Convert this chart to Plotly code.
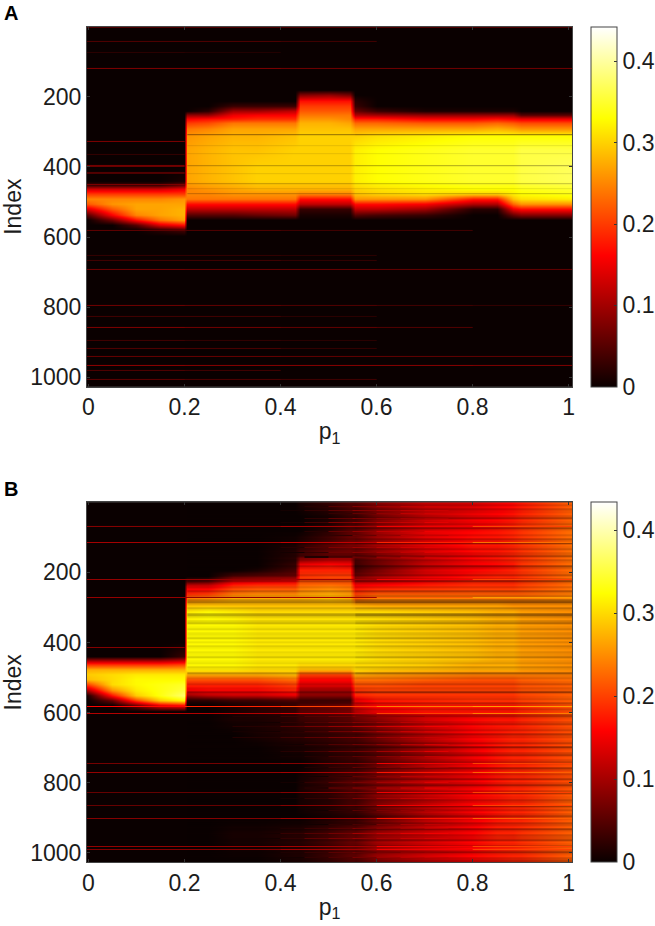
import plotly.graph_objects as go

W, H = 655, 926
P1 = [-0.004,.05,.1,.15,.198,.206,.25,.3,.35,.43,.44,.5,.545,.555,.6,.7,.8,.85,.885,.9,1.006]

A_INDEX = [1,180,195,210,225,240,250,262,275,290,310,350,400,440,452,462,475,490,505,520,535,550,565,580,595,1024]
A_Z = [
[0]*21,
[0]*21,
[0,0,0,0,0,0,0,0,0,0,.08,.09,.07,0,0,0,0,0,0,0,0],
[0,0,0,0,0,0,0,0,0,0,.17,.17,.17,.02,0,0,0,0,0,0,0],
[0,0,0,0,0,0,0,.03,.03,.03,.2,.2,.2,.03,0,0,0,0,0,0,0],
[0,0,0,0,0,0,.02,.10,.10,.12,.22,.22,.22,.06,.03,.01,.01,.01,.01,0,0],
[0,0,0,0,0,.09,.09,.15,.16,.16,.24,.24,.24,.11,.1,.09,.09,.09,.09,.05,.05],
[0,0,0,0,0,.16,.17,.18,.19,.19,.26,.26,.25,.18,.18,.16,.16,.17,.16,.15,.15],
[0,0,0,0,0,.2,.21,.24,.24,.24,.28,.28,.27,.23,.23,.22,.22,.23,.22,.21,.21],
[0,0,0,0,0,.24,.25,.27,.27,.27,.29,.29,.29,.27,.27,.27,.27,.28,.27,.26,.26],
[0,0,0,0,0,.26,.27,.28,.28,.29,.30,.30,.30,.3,.31,.32,.33,.33,.33,.33,.33],
[0,0,0,0,0,.27,.28,.29,.29,.30,.30,.30,.30,.32,.33,.34,.35,.35,.35,.36,.36],
[0,0,0,0,0,.27,.28,.29,.30,.30,.30,.30,.30,.32,.33,.34,.35,.35,.35,.36,.37],
[0,0,0,0,.01,.27,.28,.29,.30,.30,.30,.30,.30,.32,.33,.34,.35,.35,.35,.36,.37],
[.03,.03,.03,.03,.06,.26,.27,.28,.29,.29,.29,.29,.29,.31,.32,.33,.34,.34,.34,.35,.36],
[.13,.13,.13,.13,.15,.25,.26,.27,.28,.28,.28,.28,.28,.3,.31,.32,.33,.33,.33,.34,.35],
[.2,.2,.2,.2,.2,.25,.25,.26,.26,.26,.25,.25,.25,.29,.3,.31,.3,.3,.32,.33,.34],
[.25,.25,.25,.25,.26,.24,.24,.24,.24,.24,.17,.17,.17,.26,.26,.26,.18,.18,.29,.31,.32],
[.22,.26,.27,.27,.27,.17,.17,.17,.17,.17,.12,.12,.12,.17,.17,.16,.11,.11,.23,.26,.26],
[.14,.22,.27,.27,.28,.12,.12,.12,.12,.12,.03,.03,.03,.12,.12,.1,.02,.02,.15,.17,.17],
[.05,.16,.25,.27,.28,.05,.05,.05,.06,.07,.01,.01,.01,.05,.04,.03,0,0,.06,.08,.08],
[0,.07,.17,.24,.27,0,0,0,0,0,0,0,0,0,0,0,0,0,0,0,0],
[0,0,.05,.14,.17,0,0,0,0,0,0,0,0,0,0,0,0,0,0,0,0],
[0,0,0,.02,.04,0,0,0,0,0,0,0,0,0,0,0,0,0,0,0,0],
[0]*21,
[0]*21,
]

B_INDEX = [1,40,80,120,150,165,180,195,210,225,240,262,275,290,310,350,400,440,452,462,475,490,505,520,535,550,565,580,595,620,660,700,750,800,850,900,950,1024]
B_Z = [
[0,0,0,0,0,0,0,0,0,0,.01,.03,.05,.05,.08,.12,.13,.15,.16,.17,.22],
[0,0,0,0,0,0,0,0,0,0,0,.01,.03,.03,.07,.12,.15,.16,.17,.18,.22],
[0,0,0,0,0,0,0,0,0,0,0,.02,.05,.05,.09,.14,.16,.17,.18,.19,.23],
[0,0,0,0,0,0,0,0,0,.01,.02,.05,.07,.07,.1,.14,.17,.17,.18,.19,.23],
[0,0,0,0,0,0,0,0,0,.02,.04,.06,.06,.05,.08,.13,.16,.17,.18,.19,.23],
[0,0,0,0,0,0,0,0,0,.02,.1,.12,.12,.04,.07,.12,.16,.17,.18,.19,.23],
[0,0,0,0,0,0,0,0,0,.03,.16,.17,.16,.03,.06,.12,.15,.16,.17,.19,.23],
[0,0,0,0,0,0,0,0,.01,.04,.18,.18,.18,.04,.07,.13,.16,.17,.18,.19,.23],
[0,0,0,0,0,0,0,.05,.06,.07,.19,.2,.2,.07,.1,.14,.17,.18,.18,.19,.23],
[0,0,0,0,0,.05,.06,.14,.15,.16,.21,.21,.21,.12,.13,.16,.18,.18,.18,.19,.23],
[0,0,0,0,0,.14,.14,.19,.2,.2,.23,.24,.23,.16,.17,.18,.19,.19,.19,.2,.23],
[0,0,0,0,0,.19,.2,.24,.25,.25,.26,.27,.26,.2,.22,.22,.22,.22,.22,.22,.24],
[0,0,0,0,0,.24,.25,.27,.27,.27,.27,.28,.27,.22,.24,.24,.24,.24,.24,.24,.25],
[0,0,0,0,0,.28,.28,.28,.28,.28,.28,.28,.28,.27,.26,.26,.26,.26,.25,.25,.25],
[0,0,0,0,0,.31,.32,.31,.3,.3,.3,.3,.3,.3,.3,.29,.28,.27,.27,.26,.25],
[0,0,0,0,0,.32,.32,.32,.31,.31,.31,.31,.31,.31,.3,.29,.28,.27,.27,.26,.25],
[0,0,0,0,0,.32,.32,.32,.31,.31,.31,.31,.31,.31,.3,.29,.28,.27,.27,.26,.25],
[0,0,0,0,.03,.32,.32,.32,.31,.31,.31,.31,.31,.31,.3,.29,.28,.27,.27,.26,.25],
[.1,.1,.1,.1,.12,.32,.32,.32,.31,.31,.31,.31,.31,.31,.3,.29,.28,.27,.27,.26,.25],
[.19,.19,.19,.19,.2,.32,.32,.32,.31,.31,.3,.3,.3,.3,.3,.29,.27,.27,.27,.26,.25],
[.27,.27,.27,.27,.27,.31,.31,.31,.3,.3,.28,.28,.28,.3,.29,.28,.27,.27,.27,.26,.25],
[.29,.3,.31,.31,.31,.27,.27,.27,.27,.28,.2,.2,.2,.27,.26,.25,.24,.24,.24,.24,.24],
[.28,.3,.32,.32,.32,.21,.21,.21,.21,.23,.16,.16,.16,.23,.23,.22,.21,.21,.21,.22,.23],
[.2,.3,.32,.33,.34,.18,.18,.18,.18,.2,.14,.14,.14,.21,.21,.2,.2,.2,.2,.21,.22],
[.1,.25,.31,.33,.35,.15,.16,.16,.16,.18,.1,.1,.1,.19,.2,.2,.2,.2,.2,.21,.22],
[.01,.17,.29,.33,.37,.09,.11,.12,.12,.14,.08,.08,.08,.18,.19,.19,.19,.19,.19,.2,.22],
[0,.06,.2,.29,.32,.02,.02,.03,.03,.04,.03,.03,.03,.14,.17,.18,.19,.19,.19,.2,.22],
[0,0,.06,.14,.16,0,0,.01,.02,.03,.05,.06,.07,.13,.16,.17,.17,.17,.17,.18,.21],
[0,0,0,0,0,0,0,.01,.02,.03,.05,.06,.07,.11,.15,.17,.17,.17,.17,.18,.21],
[0,0,0,0,0,0,0,.01,.01,.02,.03,.04,.05,.06,.08,.13,.16,.17,.17,.18,.21],
[0,0,0,0,0,0,0,0,.01,.02,.02,.03,.04,.04,.07,.12,.16,.17,.18,.18,.21],
[0,0,0,0,0,0,0,0,0,.01,.01,.02,.03,.03,.05,.1,.15,.17,.18,.18,.21],
[0,0,0,0,0,0,0,0,0,0,0,.02,.03,.03,.06,.11,.15,.17,.18,.18,.21],
[0,0,0,0,0,0,0,0,0,0,.01,.03,.05,.05,.08,.12,.15,.17,.18,.18,.21],
[0,0,0,0,0,0,0,0,0,0,.01,.02,.04,.04,.08,.12,.16,.17,.18,.18,.22],
[0,0,0,0,0,0,0,0,0,0,0,.01,.02,.02,.05,.11,.15,.17,.18,.18,.22],
[0,0,0,0,0,0,0,.01,.01,.02,.02,.04,.06,.06,.1,.13,.16,.18,.18,.19,.22],
[0,0,0,0,0,0,0,0,0,.01,.01,.03,.05,.05,.09,.13,.16,.17,.18,.18,.22],
]

# thin bright lines: index, then value at each LINE_P segment
LINE_P = [-.01,.2,.4,.6,.8,1.01]
A_LINE_INDEX = [2,41,74,119,327,363,397,417,449,581,652,667,693,795,827,857,895,918,940,967,981,1005]
A_LINE_Z = [
[.05,.05,.05,.05,.05],[.05,.05,.04,0,0],[.025,.02,0,0,0],[.08,.08,.07,.07,.07],
[.08,0,0,0,0],[.03,0,0,0,0],[.07,0,0,0,0],[.05,0,0,0,0],[.08,0,0,0,0],
[.06,.05,.04,.04,0],[.03,.03,.025,0,0],[.04,.04,.03,0,0],[.07,.065,.065,.06,.06],
[.07,.06,.05,.04,.03],[.04,.04,.025,0,0],[.08,.07,.06,.05,0],[.04,.03,.025,0,0],
[.05,.045,.03,0,0],[.065,.065,.06,.06,.06],[.09,.085,.085,.085,.08],[.05,.04,0,0,0],[.06,.05,.04,0,0],
]
B_LINE_INDEX = [69,114,220,272,415,582,602,744,770,828,865,902,981,990]
B_LINE_Z = [
[.08,.08,.1,.15,.2],[.1,.1,.12,.18,.23],[.09,.09,.1,.15,.2],[.09,.09,.1,.22,.26],
[.08,0,0,0,0],[.16,.18,.2,.24,.26],[.11,.11,.13,.2,.24],[.07,.07,.08,.15,.2],
[.09,.09,.1,.17,.22],[.06,.06,.08,.15,.2],[.06,.06,.08,.15,.2],[.08,.08,.1,.17,.22],
[.09,.09,.1,.15,.2],[.08,.08,.1,.15,.2],
]

# streaks that reach left of the red region in panel B, one value per FRINGE_P segment
FRINGE_P = [.3,.4,.45,.5,.55,.6,.65,.7,.75]
B_FRINGE_INDEX = [12,24,33,47,58,84,95,130,143,156,612,628,640,655,670,690,710,726,757,783,800,815,845,880,918,930,945,960,1000,1012]
B_FRINGE_Z = [
[0,0,.02,.05,.08,.1,.12,.13],[0,.01,.03,.06,.09,.11,.13,.14],[0,0,0,.03,.06,.09,.12,.13],[0,0,.03,.07,.1,.12,.14,.15],[0,.01,.04,.08,.1,.12,.13,.15],
[0,0,.02,.06,.09,.12,.13,.15],[0,0,0,.03,.07,.1,.13,.14],[0,.02,.05,.08,.1,.12,.14,.15],[0,.01,.03,.07,.09,.11,.13,.15],[0,0,.02,.05,.07,.1,.12,.14],
[.02,.04,.06,.08,.1,.12,.13,.15],[.01,.03,.05,.07,.09,.11,.13,.14],[.02,.05,.07,.09,.11,.13,.14,.15],[.01,.02,.04,.07,.09,.11,.13,.14],[.02,.04,.06,.08,.09,.11,.13,.14],[0,.01,.03,.05,.07,.09,.12,.14],[0,.02,.04,.06,.07,.1,.12,.14],[0,.01,.02,.04,.06,.09,.11,.13],
[0,0,.02,.04,.07,.1,.12,.14],[0,0,.01,.03,.06,.09,.12,.13],[0,.01,.03,.06,.08,.11,.13,.15],[0,0,.02,.05,.07,.1,.12,.14],[0,.01,.03,.05,.08,.11,.13,.14],[0,0,.01,.03,.06,.09,.11,.13],[0,0,.01,.03,.05,.09,.12,.14],
[0,.02,.04,.06,.09,.11,.13,.15],[.01,.03,.05,.07,.1,.12,.14,.15],[.01,.03,.06,.08,.1,.12,.14,.15],[0,.02,.04,.07,.09,.11,.13,.14],[0,.01,.03,.05,.08,.11,.13,.14],
]

# dark thin lines
DARK_P = [.206,.555,1.01]
A_DARK_INDEX = [308,340,363,397,420,449,463,477]
A_DARK_Z = [[.45,.5],[.1,.1],[.1,.1],[.3,.35],[.1,.1],[.25,.25],[.1,.1],[.25,.25]]

# one value for each 6-unit row of panel B, read top to bottom (0 = none, 9 = darkest)
B_ROW_DARK = [
0,2,0,3,1,0,2,5,0,1,3,0,6,1,0,2,0,4,1,7,
0,1,3,0,2,5,0,3,1,0,6,2,0,1,4,0,3,7,1,0,
2,0,5,1,3,0,6,8,2,0,4,1,0,7,2,0,3,5,0,1,
3,0,2,1,4,0,2,0,3,1,0,2,1,4,0,1,2,0,3,1,
0,6,1,2,0,1,3,0,2,1,7,0,1,2,0,4,1,0,3,1,
0,5,1,0,2,4,0,1,3,0,5,2,0,1,4,0,7,1,0,3,
5,0,2,4,1,0,6,2,0,3,1,5,0,2,6,1,0,3,5,0,
1,4,2,0,6,1,3,0,2,5,1,0,4,2,0,6,1,0,3,2,
5,0,1,4,0,2,6,1,0,3,5,
]

A_MAX = 0.4426
B_MAX = 0.4334
HOT = [[0,'rgb(10,0,0)'],[.365,'rgb(255,0,0)'],[.746,'rgb(255,255,0)'],[1,'rgb(255,255,255)']]
HOT_ALPHA = [[0,'rgba(10,0,0,0)'],[.02,'rgba(20,0,0,1)'],[.365,'rgb(255,0,0)'],[.746,'rgb(255,255,0)'],[1,'rgb(255,255,255)']]
DARK = [[0,'rgba(0,0,0,0)'],[1,'rgba(40,0,0,1)']]

FONT = 'Liberation Sans, Arial, sans-serif'
TXT = '#1c1c1c'
TICK = '#333333'
L, R = 87.0, 572.0
PANELS = [('x','y','A',26.7,386.7,A_MAX,A_INDEX,A_Z,A_LINE_INDEX,A_LINE_Z),
          ('x2','y2','B',502.3,862.3,B_MAX,B_INDEX,B_Z,B_LINE_INDEX,B_LINE_Z)]

def band(idx, rows, half):
    ys, zs = [], []
    ncol = len(rows[0])
    for i, r in zip(idx, rows):
        if ys:
            zs.append([None]*ncol)
        ys += [i-half, i+half]
        zs.append(r)
    return ys, zs

fig = go.Figure()
for xa, ya, name, top, bot, zmax, idx, z, line_i, line_z in PANELS:
    fig.add_trace(go.Heatmap(x=P1, y=idx, z=z, xaxis=xa, yaxis=ya, zmin=0, zmax=zmax,
        colorscale=HOT, zsmooth='best', hoverinfo='skip',
        colorbar=dict(x=591/W, xanchor='left', xpad=0, y=1-top/H, yanchor='top', ypad=0,
            thickness=26, thicknessmode='pixels', len=bot-top, lenmode='pixels',
            tickvals=[0,.1,.2,.3,.4], ticktext=['0','0.1','0.2','0.3','0.4'],
            ticks='inside', ticklen=3, tickcolor=TICK, tickfont=dict(family=FONT,size=23,color=TXT),
            outlinewidth=1, outlinecolor='#444444', borderwidth=0)))
    if name == 'B':
        ys, zs = band(B_FRINGE_INDEX, B_FRINGE_Z, 1.5)
        fig.add_trace(go.Heatmap(x=FRINGE_P, y=ys, z=zs, xaxis=xa, yaxis=ya, zmin=0, zmax=zmax,
            colorscale=HOT_ALPHA, showscale=False, hoverinfo='skip'))
    if name == 'A':
        ys, zs = band(A_DARK_INDEX, A_DARK_Z, 1.4)
    else:
        ys = [6*i for i in range(len(B_ROW_DARK)+1)]
        zs = [[d*.04, d*.06] for d in B_ROW_DARK]
    fig.add_trace(go.Heatmap(x=DARK_P, y=ys, z=zs, xaxis=xa, yaxis=ya, zmin=0, zmax=1,
        colorscale=DARK, showscale=False, hoverinfo='skip'))
    ys, zs = band(line_i, line_z, 1.5)
    fig.add_trace(go.Heatmap(x=LINE_P, y=ys, z=zs, xaxis=xa, yaxis=ya, zmin=0, zmax=zmax,
        colorscale=HOT_ALPHA, showscale=False, hoverinfo='skip'))

def axes():
    xd = dict(domain=[L/W, R/W], range=[-.003,1.007], tickvals=[0,.2,.4,.6,.8,1],
        ticktext=['0','0.2','0.4','0.6','0.8','1'], ticks='inside', ticklen=3, tickcolor=TICK,
        mirror='ticks', showline=True, linecolor='#444444', linewidth=1, showgrid=False, zeroline=False,
        tickfont=dict(family=FONT,size=23,color=TXT),
        title=dict(text='p<sub>1</sub>', font=dict(family=FONT,size=23,color=TXT), standoff=3))
    yd = dict(range=[1027,0], tickvals=[200,400,600,800,1000],
        ticks='inside', ticklen=3, tickcolor=TICK, mirror='ticks', showline=True, linecolor='#444444',
        linewidth=1, showgrid=False, zeroline=False, tickfont=dict(family=FONT,size=23,color=TXT),
        title=dict(text='Index', font=dict(family=FONT,size=23,color=TXT), standoff=10))
    return xd, yd

x1, y1 = axes()
x2, y2 = axes()
y1['domain'] = [1-386.7/H, 1-26.7/H]
y2['domain'] = [1-862.3/H, 1-502.3/H]
x2['anchor'] = 'y2'; y2['anchor'] = 'x2'
fig.update_layout(width=W, height=H, margin=dict(l=0,r=0,t=0,b=0,autoexpand=False), paper_bgcolor='white', plot_bgcolor='black',
    xaxis=x1, yaxis=y1, xaxis2=x2, yaxis2=y2, showlegend=False,
    annotations=[
        dict(text='<b>A</b>', x=2/W, y=1-13/H, xref='paper', yref='paper', xanchor='left', yanchor='middle',
             showarrow=False, font=dict(family=FONT,size=20,color='black')),
        dict(text='<b>B</b>', x=2/W, y=1-489/H, xref='paper', yref='paper', xanchor='left', yanchor='middle',
             showarrow=False, font=dict(family=FONT,size=20,color='black')),
    ])
fig.write_html('out.html', config={'displayModeBar': False},
    post_script="document.body.style.margin='0';document.documentElement.style.overflow='hidden';")
